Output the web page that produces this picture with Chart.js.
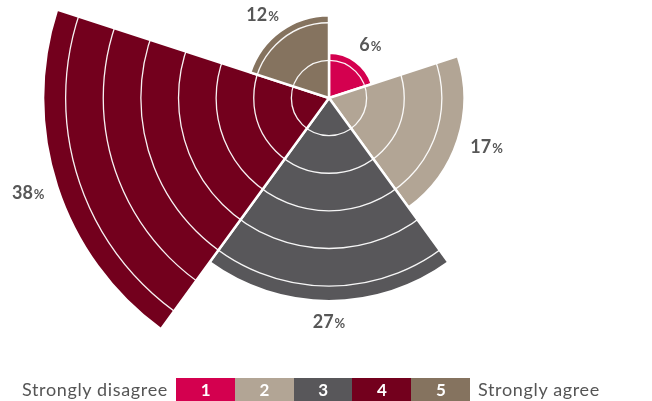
<!DOCTYPE html>
<html>
<head>
<meta charset="utf-8">
<script src="https://cdn.jsdelivr.net/npm/chart.js@4/dist/chart.umd.min.js"></script>
<style>
  html, body { margin: 0; padding: 0; background: #fff; overflow: hidden; width: 652px; height: 401px; }
  #wrap { position: absolute; left: 0; top: -203px; width: 658px; height: 602px; }
  #legend { position: absolute; left: 0; top: 378px; width: 652px; height: 23px; font-family: Lato, sans-serif; }
  #legend .txt { position: absolute; top: 0; height: 23px; line-height: 23px; font-size: 18px; letter-spacing: 0.65px; color: #555; white-space: nowrap; }
  #legend .box { position: absolute; top: 0; height: 23px; line-height: 23px; text-align: center; color: #fff; font-weight: bold; font-size: 17px; }
</style>
</head>
<body>
<div id="wrap"><canvas id="c" width="658" height="602"></canvas></div>
<div id="legend"></div>
<script>
// ---- data ----
const categories = ['1', '2', '3', '4', '5'];
const values = [6, 18, 27, 38, 11];          // radii
const pctLabels = ['6', '17', '27', '38', '12']; // printed percentages
const colors = ['#D4004F', '#B2A595', '#58575A', '#73001D', '#85735F'];
const legendLeft = 'Strongly disagree';
const legendRight = 'Strongly agree';

// ---- legend (HTML) ----
const lg = document.getElementById('legend');
const lt = document.createElement('div');
lt.className = 'txt'; lt.textContent = legendLeft;
lt.style.right = (652 - 168) + 'px';
lg.appendChild(lt);
const boxW = 58.8, box0 = 176;
categories.forEach((c, i) => {
  const b = document.createElement('div');
  b.className = 'box';
  b.textContent = c;
  b.style.left = (box0 + i * boxW) + 'px';
  b.style.width = (boxW + 0.5) + 'px';
  b.style.background = colors[i];
  lg.appendChild(b);
});
const rt = document.createElement('div');
rt.className = 'txt'; rt.textContent = legendRight;
rt.style.left = '478px';
lg.appendChild(rt);

// ---- percent labels plugin ----
const pctPlugin = {
  id: 'pct',
  afterDraw(chart) {
    const ctx = chart.ctx;
    const meta = chart.getDatasetMeta(0);
    const bigFont = 'bold 18px Lato, sans-serif';
    const smallFont = 'bold 13px Lato, sans-serif';
    const h = 13, d = 14;
    ctx.save();
    ctx.fillStyle = '#575757';
    ctx.textBaseline = 'alphabetic';
    ctx.textAlign = 'left';
    meta.data.forEach((arc, i) => {
      const p = arc.getProps(['x', 'y', 'startAngle', 'endAngle', 'outerRadius'], true);
      const mid = (p.startAngle + p.endAngle) / 2;
      ctx.font = bigFont;
      const w1 = ctx.measureText(pctLabels[i]).width;
      ctx.font = smallFont;
      const w2 = ctx.measureText('%').width;
      const w = w1 + w2 + 1;
      const r = p.outerRadius + d;
      const cx = p.x + Math.cos(mid) * r + Math.cos(mid) * w / 2;
      const cy = p.y + Math.sin(mid) * r + Math.sin(mid) * h / 2;
      const left = cx - w / 2;
      const base = cy + h / 2;
      ctx.font = bigFont;
      ctx.fillText(pctLabels[i], left, base);
      ctx.font = smallFont;
      ctx.fillText('%', left + w1 + 1, base);
    });
    ctx.restore();
  }
};

new Chart(document.getElementById('c'), {
  type: 'polarArea',
  data: {
    labels: categories,
    datasets: [{
      data: values,
      backgroundColor: colors,
      borderColor: '#fff',
      borderWidth: 2.5
    }]
  },
  options: {
    responsive: false,
    animation: false,
    layout: { padding: 0 },
    plugins: { legend: { display: false }, tooltip: { enabled: false } },
    scales: {
      r: {
        min: 0,
        max: 40,
        ticks: { display: false, stepSize: 5, z: 1 },
        grid: { color: 'rgba(255,255,255,0.95)', lineWidth: 1.3, circular: true, z: 1 },
        angleLines: { display: false },
        pointLabels: { display: false }
      }
    }
  },
  plugins: [pctPlugin]
});
</script>
</body>
</html>
